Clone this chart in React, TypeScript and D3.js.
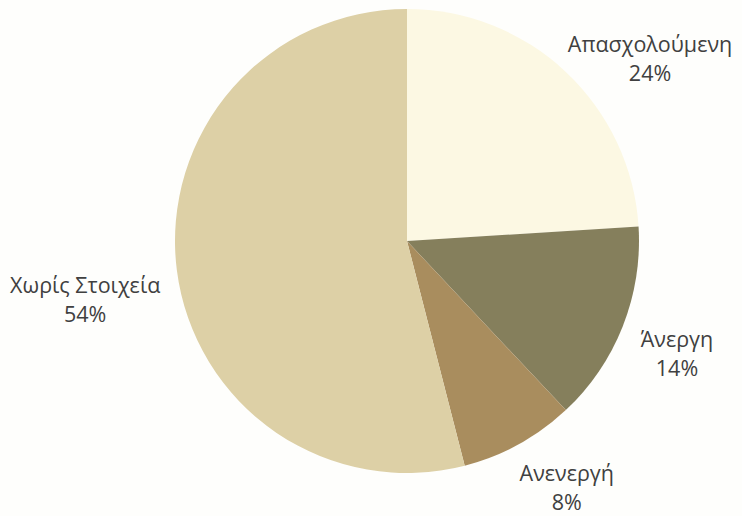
import React from "react";
import * as d3 from "d3";

const categories = ["Απασχολούμενη", "Άνεργη", "Ανενεργή", "Χωρίς Στοιχεία"];
const values = [24, 14, 8, 54];
const colors = ["#FCF8E3", "#857F5C", "#A98D5E", "#DDD0A6"];
// label anchor (first-line baseline) as polar offset: [angle deg from top, radius]
const labelPolar: [number, number][] = [
  [52.1, 308],
  [111.4, 290],
  [146.3, 288],
  [-99.2, 326],
];

const W = 742;
const H = 516;
const cx = 407;
const cy = 241;
const R = 232;

export default function App() {
  const pie = d3.pie<number>().value((d) => d).sort(null);
  const arcs = pie(values);
  const arc = d3.arc<d3.PieArcDatum<number>>().innerRadius(0).outerRadius(R);
  return (
    <svg width={W} height={H} style={{ position: "absolute", left: 0, top: 0, background: "#FEFEFC" }}>
      <g transform={`translate(${cx},${cy})`}>
        {arcs.map((a, i) => (
          <path key={i} d={arc(a) || ""} fill={colors[i]} />
        ))}
        {arcs.map((a, i) => {
          const [deg, r] = labelPolar[i];
          const t = (deg * Math.PI) / 180;
          const x = r * Math.sin(t);
          const y = -r * Math.cos(t);
          return (
            <text
              key={"l" + i}
              x={x}
              y={y}
              textAnchor="middle"
              fontFamily="'Open Sans', sans-serif"
              fontSize={21.5}
              fill="#404040"
            >
              <tspan x={x} y={y}>{categories[i]}</tspan>
              <tspan x={x} y={y + 29}>{values[i] + "%"}</tspan>
            </text>
          );
        })}
      </g>
    </svg>
  );
}
